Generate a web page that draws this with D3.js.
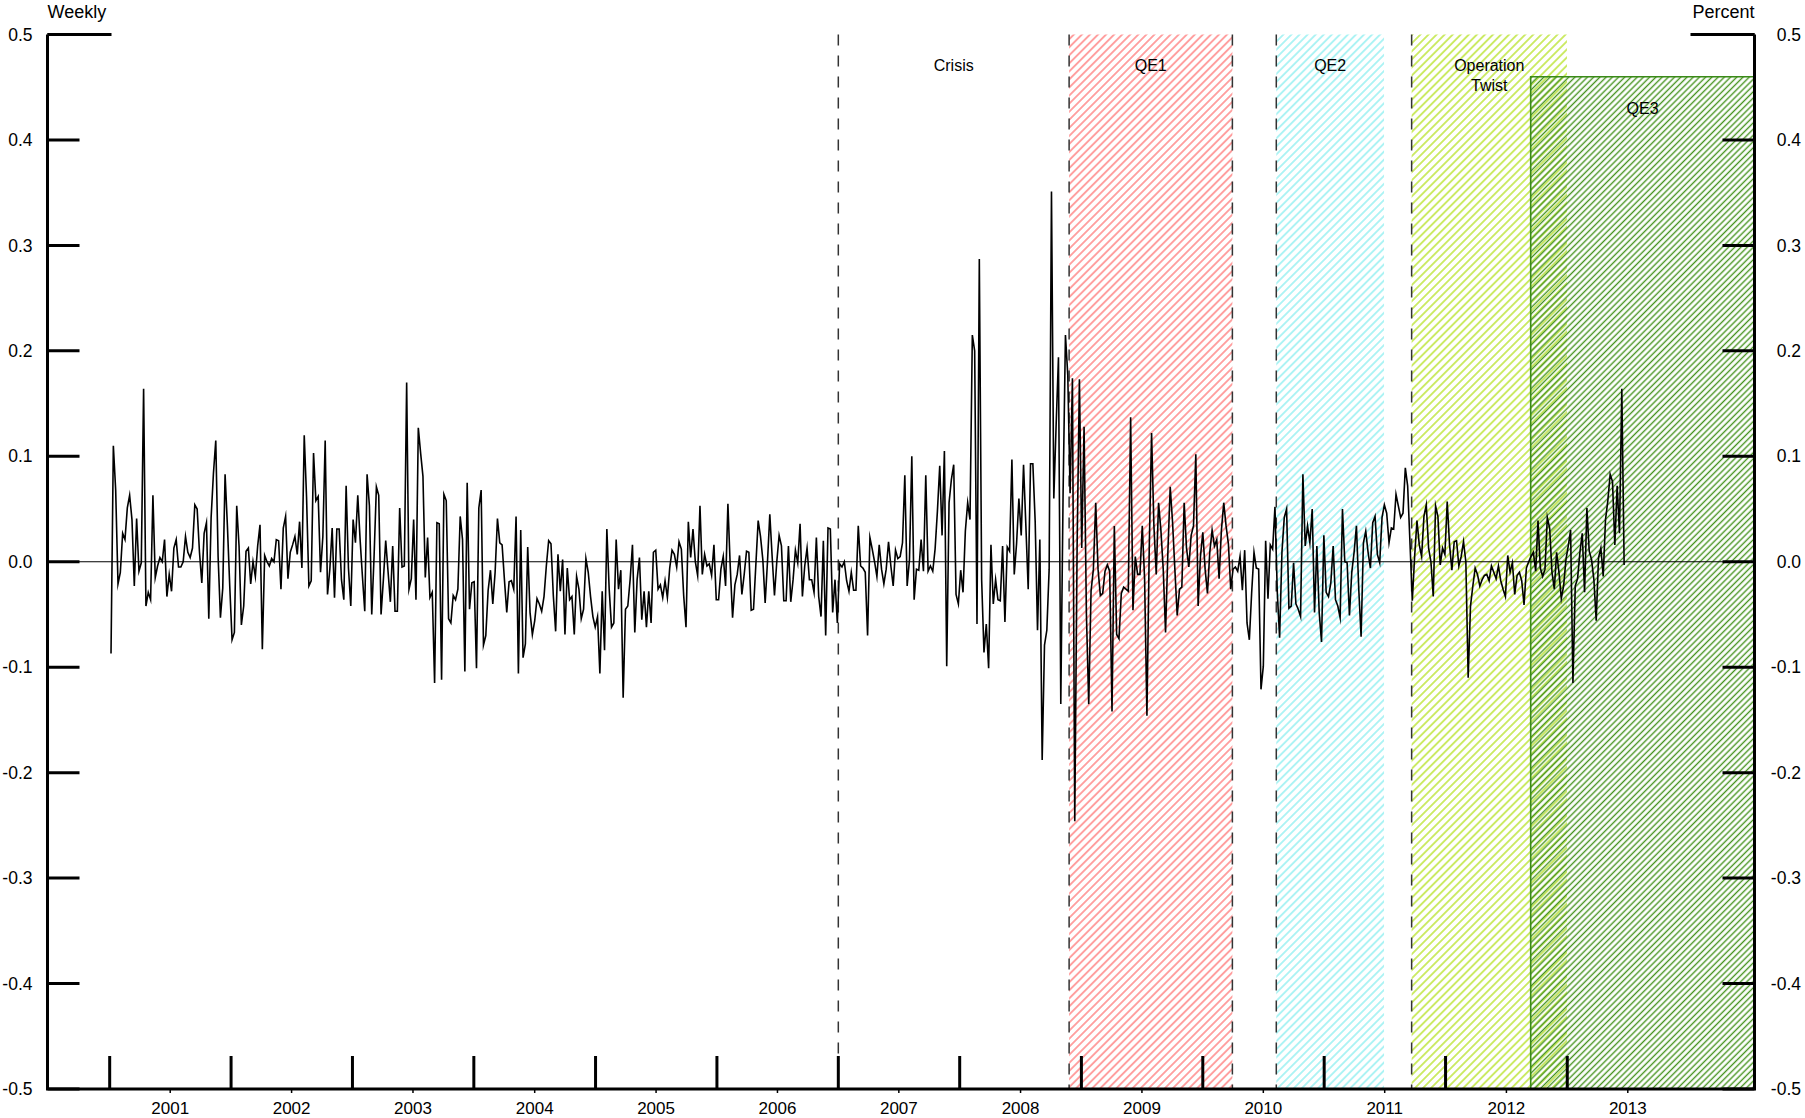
<!DOCTYPE html>
<html>
<head>
<meta charset="utf-8">
<script src="https://cdn.jsdelivr.net/npm/d3@7"></script>
<style>
  body { margin: 0; background: #fff; }
  svg text { font-family: "Liberation Sans", Arial, sans-serif; fill: #000; }
</style>
</head>
<body>
<svg id="chart" width="1805" height="1118"></svg>
<script>
// Weekly change, percent. One value per week, first week ending 2001-01-05.
const seriesStart = "2001-01-05";

const weekly2001to2004 = [
  -0.087,0.110,0.068,-0.021,-0.010,0.027,0.021,0.051,0.063,0.040,
  -0.023,0.041,-0.009,-0.001,0.164,-0.042,-0.029,-0.036,0.063,-0.015,
  -0.004,0.004,0.000,0.021,-0.033,-0.012,-0.028,0.013,0.021,-0.005,
  -0.005,0.000,0.024,0.009,0.004,0.013,0.054,0.050,0.009,-0.020,
  0.027,0.037,-0.054,0.042,0.084,0.115,0.005,-0.053,-0.025,0.083,
  0.034,-0.023,-0.074,-0.067,0.053,0.015,-0.060,-0.042,0.010,0.013,
  -0.021,0.000,-0.014,0.015,0.035,-0.083,0.006,0.000,-0.004,0.003,
  0.000,0.021,0.020,-0.026,0.032,0.043,-0.016,0.009,0.016,0.024,
  0.007,0.038,-0.006,0.120,0.061,-0.023,-0.018,0.103,0.058,0.062,
  -0.010,0.024,0.115,-0.031,-0.007,0.032,-0.034,0.031,0.031,-0.017,
  -0.036,0.072,-0.006,-0.042,0.040,0.018,0.063,0.021,-0.014,-0.047,
  0.083,0.053,-0.050,0.005,0.071,0.063,-0.050,-0.017,0.020,-0.009,
  -0.038,0.015,-0.047,-0.047,0.051,-0.005,-0.004,0.170,-0.026,-0.016,
  0.040,-0.036,0.127,0.103,0.081,-0.015,0.023,-0.034,-0.029,-0.115,
  0.037,0.036,-0.112,0.064,0.058,-0.054,-0.058,-0.032,-0.036,-0.026,
  0.043,0.021,-0.104,0.075,-0.045,-0.020,-0.019,-0.101,0.051,0.068,
  -0.079,-0.070,-0.027,-0.008,-0.040,-0.010,0.041,0.018,0.016,-0.017,
  -0.048,-0.019,-0.018,-0.026,0.043,-0.106,0.030,-0.091,-0.078,0.014,
  -0.048,-0.069,-0.056,-0.035,-0.040,-0.047,-0.033,-0.004,0.020,0.017,
  -0.032,-0.066,0.007
];

const weekly2004to2008 = [
  -0.028,0.002,-0.069,-0.006,-0.036,-0.033,-0.069,-0.014,-0.026,-0.054,
  -0.045,0.003,-0.010,-0.033,-0.052,-0.062,-0.052,-0.106,-0.028,-0.084,
  0.031,-0.026,-0.062,-0.058,0.021,-0.026,-0.008,-0.129,-0.045,-0.042,
  -0.017,0.016,-0.067,-0.017,0.004,-0.055,-0.028,-0.062,-0.028,-0.058,
  0.009,0.011,-0.026,-0.022,-0.034,-0.018,-0.034,-0.006,0.011,0.007,
  -0.005,0.019,0.012,-0.032,-0.062,0.038,0.004,0.031,0.000,-0.013,
  0.053,-0.012,0.007,-0.004,-0.002,-0.013,0.016,-0.036,-0.036,-0.007,
  0.005,-0.023,0.055,-0.004,-0.053,-0.022,-0.012,0.006,-0.031,-0.012,
  0.010,0.009,-0.046,-0.045,-0.003,0.039,0.024,0.002,-0.039,0.000,
  0.045,0.005,-0.032,0.000,0.025,0.015,-0.037,-0.037,0.015,-0.038,
  -0.017,0.011,-0.001,0.036,-0.033,-0.004,0.013,-0.017,-0.017,-0.029,
  0.023,-0.033,-0.052,0.020,-0.070,0.032,0.031,-0.048,-0.017,-0.058,
  -0.002,-0.005,0.000,-0.018,-0.028,-0.010,-0.027,-0.027,0.034,-0.004,
  -0.006,-0.010,-0.070,0.023,0.012,0.000,-0.014,0.016,-0.007,-0.021,
  -0.007,0.019,-0.004,-0.023,0.011,0.003,0.005,0.018,0.082,-0.023,
  0.002,0.100,-0.036,-0.007,-0.008,0.021,-0.009,0.082,-0.009,-0.004,
  -0.009,0.012,0.048,0.091,0.025,0.105,-0.099,0.056,0.078,0.092,
  -0.031,-0.040,-0.008,-0.029,0.029,0.056,0.040,0.215,0.200,-0.059,
  0.287,-0.017,-0.086,-0.059,-0.101,0.016,-0.040,-0.017,-0.036
];

const weekly2008to2010 = [
  -0.037,0.015,-0.057,0.014,0.010,0.097,-0.012,0.017,0.060,0.025,
  0.092,0.034,-0.026,0.093,0.093,0.038,-0.065,0.021,-0.188,-0.079,
  -0.065,-0.007,0.351,0.060,0.130,0.194,-0.135,0.067,0.215,0.177,
  0.065,0.174,-0.246,0.013,0.173,0.013,0.128,-0.049,-0.135,-0.028,
  -0.007,0.056,-0.007,-0.032,-0.030,-0.009,-0.003,-0.009,-0.142,0.034,
  -0.069,-0.073,-0.030,-0.024,-0.026,-0.028,0.137,-0.046,0.005,-0.012,
  -0.012,0.034,-0.016,-0.146,0.013,0.122,0.034,-0.012,0.056,0.030,
  -0.007,-0.067,0.009,0.071,0.038,-0.007,-0.051,-0.026,-0.024,0.056,
  0.013,-0.005,0.025,0.034,0.102,-0.042,0.005,0.028,-0.007,-0.030,
  0.009,0.030,0.015,0.021,-0.016,0.030,0.056,0.034,0.017,-0.026,
  -0.007,-0.005,-0.009,0.005,-0.027,0.011
];

const weekly2010to2013 = [
  -0.058,-0.074,-0.029,0.009,-0.006,-0.007,-0.121,-0.099,0.020,-0.035,
  0.016,0.012,0.052,-0.029,-0.072,0.009,0.042,0.050,-0.044,-0.042,
  -0.001,-0.040,-0.045,-0.052,0.083,0.015,0.034,0.018,0.050,-0.048,
  0.015,-0.048,-0.076,0.025,-0.029,-0.033,-0.020,0.015,-0.036,-0.042,
  -0.053,0.050,0.000,-0.001,-0.051,-0.010,0.009,0.034,-0.026,-0.071,
  0.018,0.029,0.009,-0.006,0.037,0.043,0.007,-0.001,0.042,0.054,
  0.046,0.018,0.032,0.031,0.064,0.053,0.042,0.046,0.089,0.072,
  0.018,-0.037,0.005,0.039,0.016,0.005,0.043,0.054,0.013,0.000,
  -0.033,0.053,0.043,-0.003,0.013,0.007,0.057,0.016,-0.008,0.019,
  0.020,-0.004,0.005,0.019,0.000,-0.110,-0.042,-0.023,-0.006,-0.012,
  -0.023,-0.017,-0.013,-0.012,-0.018,-0.004,-0.010,-0.016,-0.004,-0.018,
  -0.026,-0.033,0.006,-0.010,-0.001,-0.031,-0.013,-0.010,-0.018,-0.041,
  -0.006,0.000,0.005,0.009,-0.009,0.039,-0.006,-0.014,-0.007,0.042,
  0.032,-0.010,-0.026,0.009,-0.010,-0.035,-0.023,0.002,0.015,0.030,
  -0.115,-0.023,-0.016,0.009,0.027,-0.029,0.051,0.010,0.002,-0.017,
  -0.056,0.004,0.013,-0.014,0.040,0.058,0.083,0.076,0.016,0.072,
  0.027,0.164,-0.003
];

// Policy episodes drawn as hatched bands
const episodeNames  = [["QE1"], ["QE2"], ["Operation", "Twist"], ["QE3"]];
const episodeStart  = ["2008-11-25", "2010-08-10", "2011-09-21", "2012-09-13"];
const episodeEnd    = ["2010-03-31", "2011-06-30", "2012-12-31", null];
const episodeTop    = [0.5, 0.5, 0.5, 0.46];
const episodeColors = ["#ff7c7c", "#8eeff0", "#bde53a", "#479320"];

// Dashed event markers
const markerDates = ["2007-01-01", "2008-11-25", "2010-03-31", "2010-08-10", "2011-09-21"];
const crisisLabel = { text: "Crisis", from: "2007-01-01", to: "2008-11-25" };

// Axis tick labels
const yTicks = [0.5, 0.4, 0.3, 0.2, 0.1, 0.0, -0.1, -0.2, -0.3, -0.4, -0.5];
const yearLabels = [2001, 2002, 2003, 2004, 2005, 2006, 2007, 2008, 2009, 2010, 2011, 2012, 2013];

const parse = d3.utcParse("%Y-%m-%d");
const values = [].concat(weekly2001to2004, weekly2004to2008, weekly2008to2010, weekly2010to2013);
const t0 = parse(seriesStart);
const series = values.map((v, i) => ({ date: d3.utcDay.offset(t0, 7 * i), value: v }));

const plotLeft = 47.5, plotRight = 1754.5, plotTop = 34.5, plotBottom = 1089;
const svg = d3.select("#chart");

const x = d3.scaleUtc()
  .domain([parse("2000-06-28"), parse("2014-07-18")])
  .range([plotLeft, plotRight]);
const y = d3.scaleLinear().domain([-0.5, 0.5]).range([plotBottom, plotTop]);

// Hatch patterns: diagonal strokes rising to the right
const defs = svg.append("defs");
const gaps = [5.7, 5.7, 5.7, 4.4];
const widths = [1.4, 1.4, 1.5, 1.4];
episodeColors.forEach((c, i) => {
  const g = gaps[i];
  const p = defs.append("pattern")
    .attr("id", "hatch" + i)
    .attr("patternUnits", "userSpaceOnUse")
    .attr("width", g).attr("height", g)
    .attr("patternTransform", "rotate(45)");
  p.append("line")
    .attr("x1", g / 2).attr("y1", -1).attr("x2", g / 2).attr("y2", g + 1)
    .attr("stroke", c).attr("stroke-width", widths[i]);
});

// Bands
const bands = svg.append("g");
episodeStart.forEach((s, i) => {
  const x0 = x(parse(s));
  const x1 = episodeEnd[i] ? x(parse(episodeEnd[i])) : plotRight;
  bands.append("rect")
    .attr("x", x0).attr("y", y(episodeTop[i]))
    .attr("width", x1 - x0).attr("height", plotBottom - y(episodeTop[i]))
    .attr("fill", `url(#hatch${i})`);
});
// QE3 outline
{
  const x0 = x(parse(episodeStart[3]));
  bands.append("path")
    .attr("d", `M${x0},${plotBottom}V${y(episodeTop[3])}H${plotRight}`)
    .attr("fill", "none").attr("stroke", "#3a8a18").attr("stroke-width", 1.6);
}

// Dashed markers
svg.append("g").selectAll("line").data(markerDates).join("line")
  .attr("x1", d => x(parse(d))).attr("x2", d => x(parse(d)))
  .attr("y1", plotTop).attr("y2", plotBottom)
  .attr("stroke", "#333").attr("stroke-width", 1.5)
  .attr("stroke-dasharray", "11,10");

// Zero line
svg.append("line")
  .attr("x1", plotLeft).attr("x2", plotRight).attr("y1", y(0)).attr("y2", y(0))
  .attr("stroke", "#000").attr("stroke-width", 1);

// Series
svg.append("path").datum(series)
  .attr("fill", "none").attr("stroke", "#000").attr("stroke-width", 1.6)
  .attr("stroke-linejoin", "miter").attr("stroke-miterlimit", 10)
  .attr("d", d3.line().x(d => x(d.date)).y(d => y(d.value)));

// Episode labels
const lab = svg.append("g").attr("font-size", 16).attr("text-anchor", "middle");
lab.append("text")
  .attr("x", (x(parse(crisisLabel.from)) + x(parse(crisisLabel.to))) / 2)
  .attr("y", 71).text(crisisLabel.text);
episodeNames.forEach((lines, i) => {
  const x0 = x(parse(episodeStart[i]));
  const x1 = episodeEnd[i] ? x(parse(episodeEnd[i])) : plotRight;
  const ty = i === 3 ? 114 : 71;
  lines.forEach((t, k) => {
    lab.append("text").attr("x", (x0 + x1) / 2).attr("y", ty + k * 20).text(t);
  });
});

// Axes
const axisG = svg.append("g").attr("stroke", "#000").attr("stroke-width", 3).attr("fill", "none");
axisG.append("path").attr("d", `M${plotLeft},${plotTop}V${plotBottom}H${plotRight}V${plotTop}`);
axisG.append("path").attr("d", `M${plotLeft},${plotTop}H${plotLeft + 64}M${plotRight},${plotTop}H${plotRight - 64}`);
yTicks.forEach(v => {
  axisG.append("path").attr("d", `M${plotLeft},${y(v)}H${plotLeft + 32}M${plotRight},${y(v)}H${plotRight - 32}`);
});
yearLabels.forEach(yr => {
  const xs = x(parse(`${yr}-01-01`));
  axisG.append("path").attr("d", `M${xs},${plotBottom}V${plotBottom - 33}`);
  const xm = x(parse(`${yr}-07-02`));
  axisG.append("path").attr("d", `M${xm},${plotBottom}V${plotBottom + 4}`).attr("stroke-width", 1.5);
});

// Tick labels use a plain hyphen for the sign
const fmt = v => d3.format(".1f")(v).replace("\u2212", "-");
const tl = svg.append("g").attr("font-size", 17.5);
yTicks.forEach(v => {
  tl.append("text").attr("x", plotLeft - 15).attr("y", y(v)).attr("dy", "0.35em")
    .attr("text-anchor", "end").text(fmt(v));
  tl.append("text").attr("x", 1801).attr("y", y(v)).attr("dy", "0.35em")
    .attr("text-anchor", "end").text(fmt(v));
});
yearLabels.forEach(yr => {
  tl.append("text").attr("x", x(parse(`${yr}-07-02`))).attr("y", 1114)
    .attr("text-anchor", "middle").attr("font-size", 17).text(yr);
});
tl.append("text").attr("x", plotLeft).attr("y", 18).attr("font-size", 18).text("Weekly");
tl.append("text").attr("x", plotRight).attr("y", 18).attr("font-size", 18)
  .attr("text-anchor", "end").text("Percent");
</script>
</body>
</html>
